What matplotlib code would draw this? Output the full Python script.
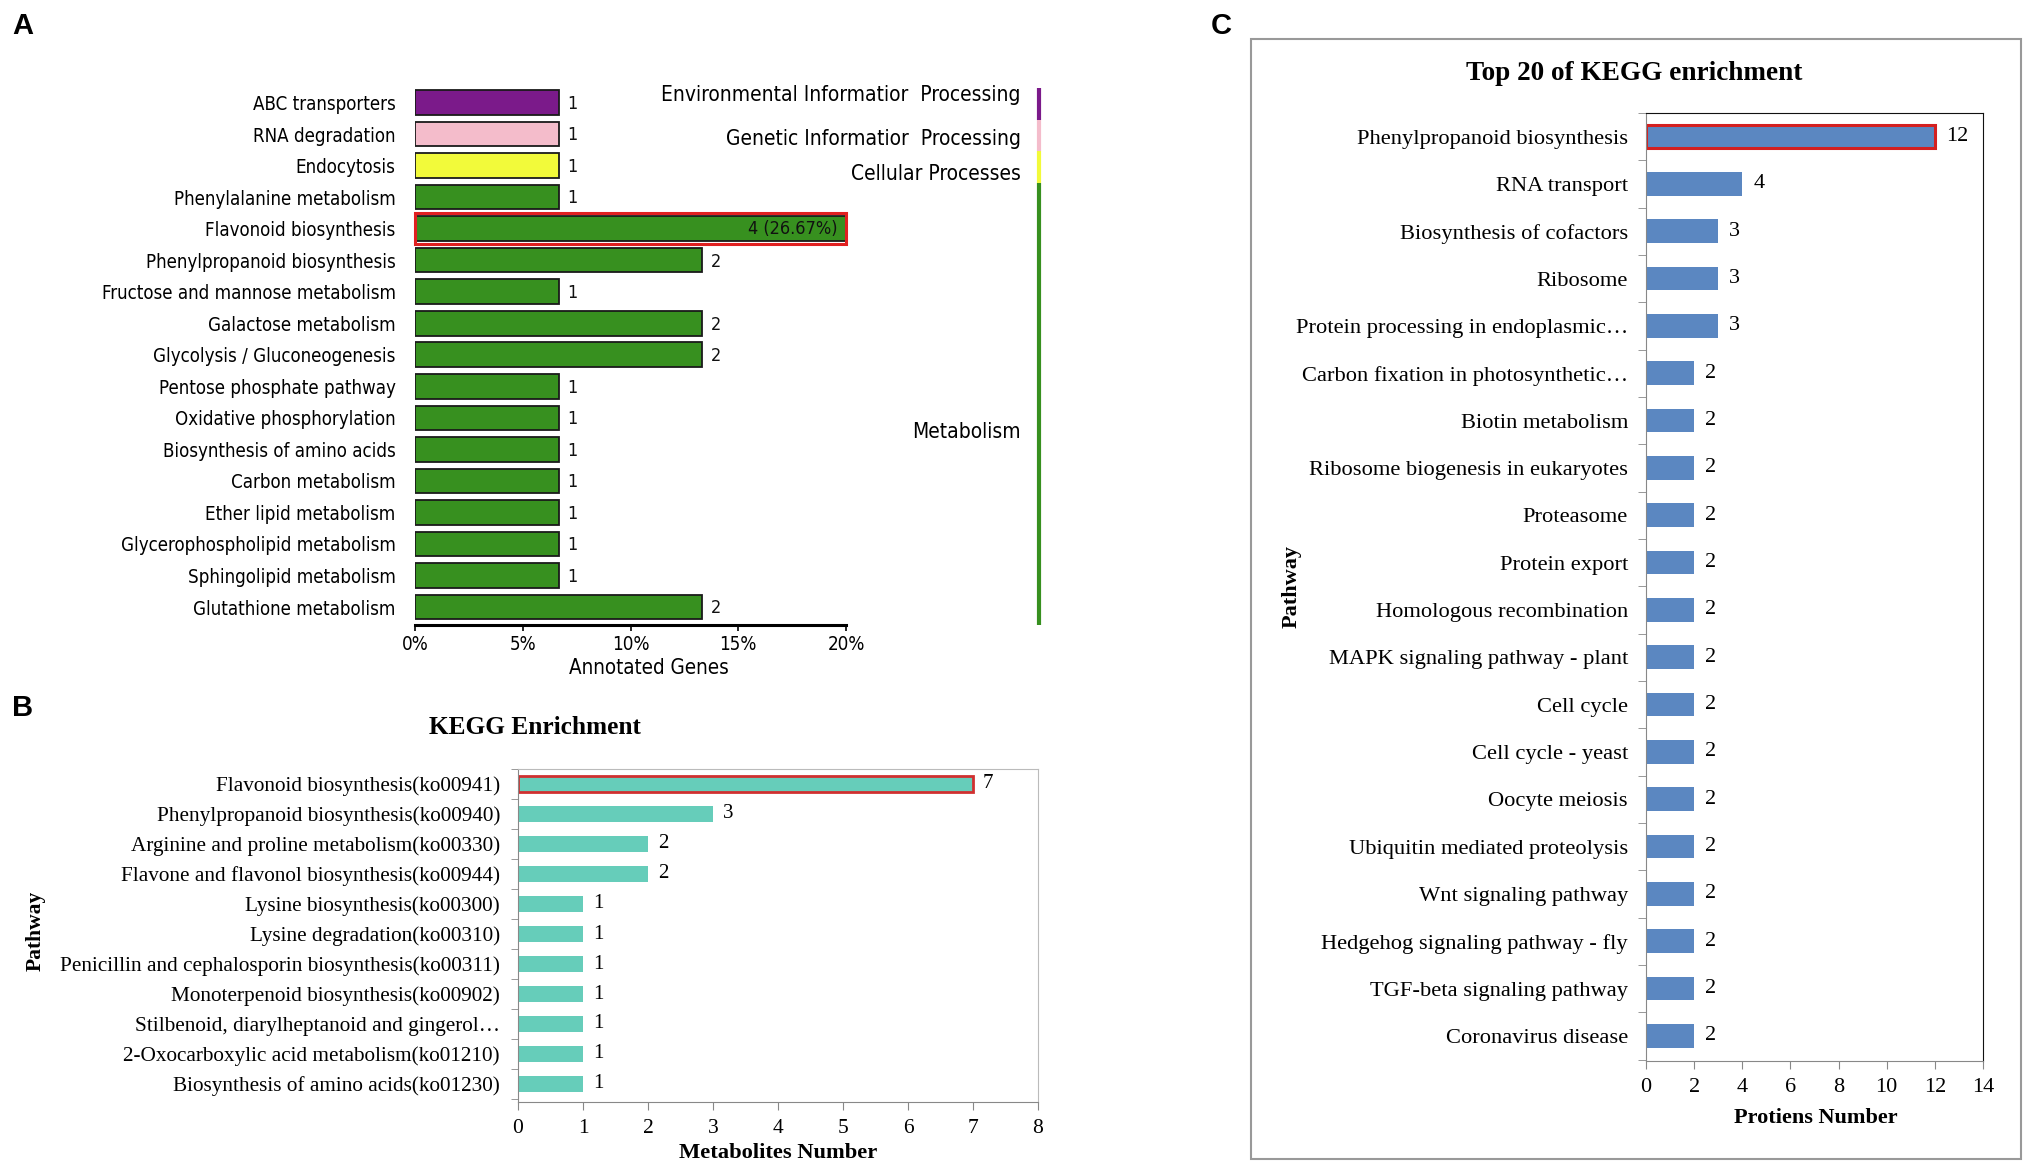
import matplotlib
matplotlib.use("Agg")
import matplotlib.pyplot as plt
import numpy as np
from matplotlib.patches import Rectangle
from matplotlib.transforms import blended_transform_factory

# ---------------- data ----------------
a_pathways = ["ABC transporters", "RNA degradation", "Endocytosis", "Phenylalanine metabolism",
              "Flavonoid biosynthesis", "Phenylpropanoid biosynthesis", "Fructose and mannose metabolism",
              "Galactose metabolism", "Glycolysis / Gluconeogenesis", "Pentose phosphate pathway",
              "Oxidative phosphorylation", "Biosynthesis of amino acids", "Carbon metabolism",
              "Ether lipid metabolism", "Glycerophospholipid metabolism", "Sphingolipid metabolism",
              "Glutathione metabolism"]
a_counts = [1, 1, 1, 1, 4, 2, 1, 2, 2, 1, 1, 1, 1, 1, 1, 1, 2]
a_total = 15
a_groups = ["Environmental Information Processing", "Genetic Information Processing",
            "Cellular Processes"] + ["Metabolism"] * 14
a_xticks = [0, 5, 10, 15, 20]
a_highlight = "Flavonoid biosynthesis"

b_pathways = ["Flavonoid biosynthesis(ko00941)", "Phenylpropanoid biosynthesis(ko00940)",
              "Arginine and proline metabolism(ko00330)", "Flavone and flavonol biosynthesis(ko00944)",
              "Lysine biosynthesis(ko00300)", "Lysine degradation(ko00310)",
              "Penicillin and cephalosporin biosynthesis(ko00311)", "Monoterpenoid biosynthesis(ko00902)",
              "Stilbenoid, diarylheptanoid and gingerol\u2026", "2-Oxocarboxylic acid metabolism(ko01210)",
              "Biosynthesis of amino acids(ko01230)"]
b_counts = [7, 3, 2, 2, 1, 1, 1, 1, 1, 1, 1]
b_xticks = list(range(0, 9))
b_highlight = 0

c_pathways = ["Phenylpropanoid biosynthesis", "RNA transport", "Biosynthesis of cofactors", "Ribosome",
              "Protein processing in endoplasmic\u2026", "Carbon fixation in photosynthetic\u2026",
              "Biotin metabolism", "Ribosome biogenesis in eukaryotes", "Proteasome", "Protein export",
              "Homologous recombination", "MAPK signaling pathway - plant", "Cell cycle",
              "Cell cycle - yeast", "Oocyte meiosis", "Ubiquitin mediated proteolysis",
              "Wnt signaling pathway", "Hedgehog signaling pathway - fly", "TGF-beta signaling pathway",
              "Coronavirus disease"]
c_counts = [12, 4, 3, 3, 3, 2, 2, 2, 2, 2, 2, 2, 2, 2, 2, 2, 2, 2, 2, 2]
c_xticks = list(range(0, 15, 2))
c_highlight = 0

# ---------------- styling ----------------
W, H = 2033, 1167
fig = plt.figure(figsize=(W / 100, H / 100), dpi=100)
fig.patch.set_facecolor("white")

SANS_A = dict(family="DejaVu Sans", stretch="condensed")
SERIF = "Liberation Serif"
group_colors = {"Environmental Information Processing": "#7B1A8A",
                "Genetic Information Processing": "#F4BCCB",
                "Cellular Processes": "#F2FA3A",
                "Metabolism": "#37901F"}


def px_axes(l, t, r, b):
    return fig.add_axes([l / W, 1 - b / H, (r - l) / W, (b - t) / H])


def ftext(x, y, s, **kw):
    return fig.text(x / W, 1 - y / H, s, **kw)


# ---------------- Panel A ----------------
axA = px_axes(415, 86.7, 846, 625)
pct = np.array(a_counts) / a_total * 100
ya = np.arange(len(a_pathways))
colorsA = [group_colors[g] for g in a_groups]
axA.barh(ya, pct, height=0.78, color=colorsA, edgecolor="#1a1a1a", linewidth=1.3)
axA.set_xlim(0, 20)
axA.set_ylim(len(a_pathways) - 0.43, -0.5)
hi = a_pathways.index(a_highlight)
axA.barh([hi], [min(pct[hi], 20)], height=0.98, color="none", edgecolor="#E02020",
         linewidth=2.2, clip_on=False)
for i, (c, p) in enumerate(zip(a_counts, pct)):
    if p > 20:
        axA.annotate(f"{c} ({p:.2f}%)", (20, i), xytext=(-6, 0), textcoords="offset points",
                     ha="right", va="center", fontsize=13, color="#111111", **SANS_A)
    else:
        axA.annotate(f"{c}", (p, i), xytext=(6, -1), textcoords="offset points",
                     ha="left", va="center", fontsize=13, color="#111111", **SANS_A)
axA.set_yticks(ya)
axA.set_yticklabels(a_pathways, fontsize=13.4, **SANS_A)
axA.tick_params(axis="y", length=0, pad=14)
axA.set_xticks(a_xticks)
axA.set_xticklabels([f"{t}%" for t in a_xticks], fontsize=13.5, **SANS_A)
axA.tick_params(axis="x", length=4, width=1.2, pad=3)
for s in ["top", "right", "left"]:
    axA.spines[s].set_visible(False)
axA.spines["bottom"].set_linewidth(2.2)
ftext(649, 668, "Annotated Genes", ha="center", va="center", fontsize=14.8, **SANS_A)

# category strip
trA = blended_transform_factory(axA.transAxes, axA.transData)
xline = (1039 - 415) / (846 - 415)
bounds = {}
for i, g in enumerate(a_groups):
    lo, hi_ = bounds.get(g, (i, i))
    bounds[g] = (min(lo, i), max(hi_, i))
ylow = len(a_pathways) - 0.43
for g, (lo, hi_) in bounds.items():
    y0 = lo - 0.45
    y1 = hi_ + 0.55 if g != "Metabolism" else ylow
    axA.plot([xline, xline], [y0, y1], color=group_colors[g], lw=3, transform=trA,
             clip_on=False, solid_capstyle="butt")
ftext(1021, 95, "Environmental Informatior  Processing", ha="right", va="center", fontsize=15, **SANS_A)
ftext(1021, 139, "Genetic Informatior  Processing", ha="right", va="center", fontsize=15, **SANS_A)
ftext(1021, 174, "Cellular Processes", ha="right", va="center", fontsize=15, **SANS_A)
ftext(1021, 432, "Metabolism", ha="right", va="center", fontsize=15, **SANS_A)

# ---------------- Panel B ----------------
axB = px_axes(518, 769, 1038, 1102)
yb = np.arange(len(b_pathways))
edgeB = ["#D03030" if i == b_highlight else "none" for i in yb]
lwB = [2.0 if i == b_highlight else 0 for i in yb]
axB.barh(yb, b_counts, height=0.52, color="#66CDBA", edgecolor=edgeB, linewidth=lwB)
axB.set_xlim(0, 8)
axB.set_ylim(len(b_pathways) - 0.4, -0.5)
for i, c in enumerate(b_counts):
    axB.annotate(f"{c}", (c, i), xytext=(7, 0), textcoords="offset points",
                 ha="left", va="center", fontsize=15, family=SERIF)
axB.set_yticks(yb)
axB.set_yticklabels(b_pathways, fontsize=15.3, family=SERIF)
axB.set_yticks(np.arange(-0.5, len(b_pathways), 1), minor=True)
axB.tick_params(axis="y", which="major", length=0, pad=13)
axB.tick_params(axis="y", which="minor", length=5, color="#888888", direction="out")
axB.set_xticks(b_xticks)
axB.set_xticklabels([str(t) for t in b_xticks], fontsize=15.5, family=SERIF)
axB.tick_params(axis="x", length=6, color="#888888", pad=6)
for s in ["left", "bottom"]:
    axB.spines[s].set_color("#888888")
for s in ["top", "right"]:
    axB.spines[s].set_color("#BBBBBB")
ftext(535, 728, "KEGG Enrichment", ha="center", va="center", fontsize=18.3, weight="bold", family=SERIF)
ftext(778, 1153, "Metabolites Number", ha="center", va="center", fontsize=16.2, weight="bold", family=SERIF)
ftext(36, 931, "Pathway", ha="center", va="center", rotation=90, fontsize=15.5, weight="bold", family=SERIF)

# ---------------- Panel C ----------------
fig.add_artist(Rectangle((1251 / W, 1 - 1159 / H), (2021 - 1251) / W, (1159 - 39) / H,
                         transform=fig.transFigure, fill=False, edgecolor="#999999", lw=1.5))
axC = px_axes(1646, 113, 1983, 1061)
yc = np.arange(len(c_pathways))
edgeC = ["#D42020" if i == c_highlight else "none" for i in yc]
lwC = [2.2 if i == c_highlight else 0 for i in yc]
axC.barh(yc, c_counts, height=0.5, color="#5B87C1", edgecolor=edgeC, linewidth=lwC)
axC.set_xlim(0, 14)
axC.set_ylim(len(c_pathways) - 0.47, -0.5)
for i, c in enumerate(c_counts):
    axC.annotate(f"{c}", (c, i), xytext=(8, 0), textcoords="offset points",
                 ha="left", va="center", fontsize=16, family=SERIF)
axC.set_yticks(yc)
axC.set_yticklabels(c_pathways, fontsize=16.2, family=SERIF)
axC.set_yticks(np.arange(-0.5, len(c_pathways), 1), minor=True)
axC.tick_params(axis="y", which="major", length=0, pad=13)
axC.tick_params(axis="y", which="minor", length=6, color="#888888", direction="out")
axC.set_xticks(c_xticks)
axC.set_xticklabels([str(t) for t in c_xticks], fontsize=16, family=SERIF)
axC.tick_params(axis="x", length=6, color="#888888", pad=6)
for s in ["left", "bottom"]:
    axC.spines[s].set_color("#888888")
for s in ["top", "right"]:
    axC.spines[s].set_color("#111111")
ftext(1634, 74, "Top 20 of KEGG enrichment", ha="center", va="center", fontsize=19.6, weight="bold", family=SERIF)
ftext(1816, 1118, "Protiens Number", ha="center", va="center", fontsize=16, weight="bold", family=SERIF)
ftext(1292, 586, "Pathway", ha="center", va="center", rotation=90, fontsize=16, weight="bold", family=SERIF)

# panel letters
for (x, y, s) in [(12, 12, "A"), (12, 694, "B"), (1211, 12, "C")]:
    ftext(x, y, s, ha="left", va="top", fontsize=21, weight="bold", family="Liberation Sans")

fig.savefig("out.png", dpi=100, facecolor="white")
